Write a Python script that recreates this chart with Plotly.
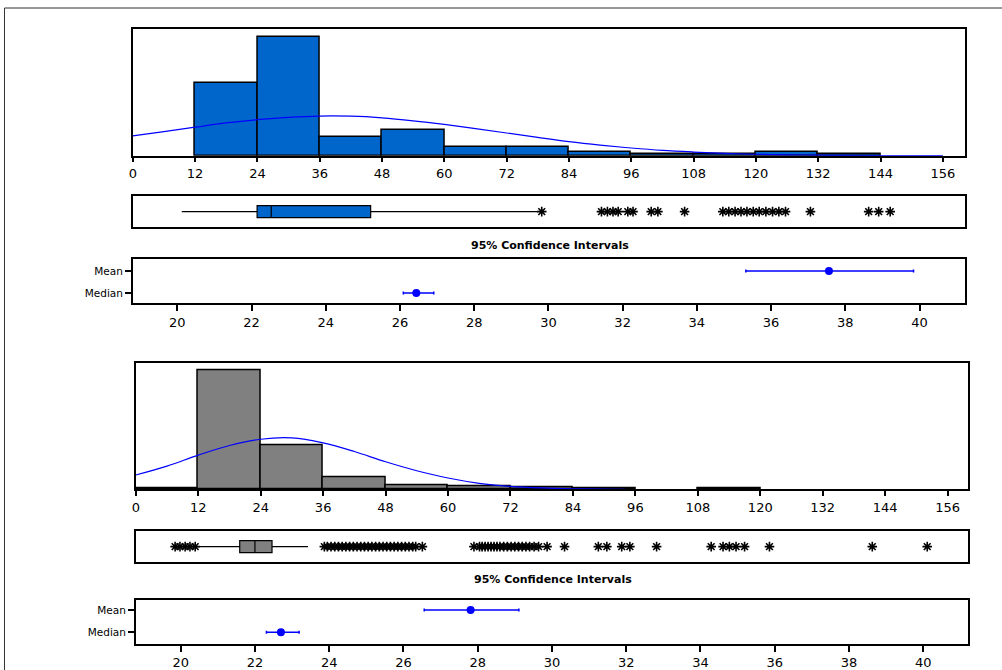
import plotly.graph_objects as go

# ---------------- data ----------------
bin_left = [0, 12, 24, 36, 48, 60, 72, 84, 96, 108, 120, 132, 144]
bin_width = 12
counts_1 = [0, 40, 65, 10, 14, 5, 5, 2, 1, 1, 2, 1, 0]
counts_2 = [2, 180, 67, 18, 6, 4, 3, 1, 0, 1, 0, 0, 0]

curve1_x = [0, 6, 12, 18, 24, 30, 36, 42, 48, 54, 60, 66, 72, 78, 84, 90, 96,
            102, 108, 114, 120, 126, 132, 138, 144, 150, 156]
curve1_y = [10.8, 13.2, 15.6, 17.9, 19.7, 21.0, 21.7, 21.6, 20.7, 19.1, 17.1,
            14.8, 12.4, 10.0, 7.7, 5.8, 4.2, 2.9, 2.0, 1.3, 0.8, 0.5, 0.3,
            0.15, 0.1, 0.05, 0.0]
curve2_x = [0, 6, 12, 18, 24, 30, 36, 42, 48, 54, 60, 66, 72, 78, 84, 90, 94]
curve2_y = [21.6, 35.0, 51.5, 66.0, 75.5, 77.5, 70.0, 57.0, 41.5, 28.0, 17.0,
            9.0, 4.5, 2.0, 0.8, 0.3, 0.1]

hist_ticks = [0, 12, 24, 36, 48, 60, 72, 84, 96, 108, 120, 132, 144, 156]
ci_ticks = [20, 22, 24, 26, 28, 30, 32, 34, 36, 38, 40]
ci_labels = ["Median", "Mean"]

# box plot summaries (on the 20-40 scale)
box1 = dict(lowerfence=20.12, q1=22.15, median=22.53, q3=25.21, upperfence=29.73)
box2 = dict(lowerfence=20.43, q1=21.59, median=22.00, q3=22.46, upperfence=23.43)
outliers_1 = [29.82, 31.43, 31.59, 31.74, 31.88, 32.14, 32.28, 32.77, 32.95,
              33.67, 34.70, 34.86, 35.03, 35.19, 35.35, 35.52, 35.68, 35.86,
              36.04, 36.21, 36.39, 37.06, 38.63, 38.90, 39.21]
outliers_2 = [19.85, 19.98, 20.12, 20.25, 20.39,
              23.87, 23.95, 24.05, 24.15, 24.25, 24.35, 24.45, 24.55, 24.65,
              24.75, 24.85, 24.95, 25.05, 25.15, 25.25, 25.35, 25.45, 25.55,
              25.65, 25.75, 25.85, 25.95, 26.05, 26.15, 26.25, 26.33, 26.51,
              27.90, 28.05, 28.12, 28.20, 28.28, 28.36, 28.44, 28.52, 28.60,
              28.70, 28.80, 28.90, 29.00, 29.10, 29.20, 29.30, 29.40, 29.52,
              29.64, 29.87, 30.34, 31.25, 31.48, 31.88, 32.10, 32.82, 34.29,
              34.61, 34.78, 34.96, 35.19, 35.86, 38.63, 40.11]

# confidence intervals: [median, mean]
ci1_center = [26.44, 37.56]
ci1_low = [26.09, 35.32]
ci1_high = [26.91, 39.84]
ci2_center = [22.70, 27.81]
ci2_low = [22.31, 26.56]
ci2_high = [23.19, 29.11]

# ---------------- layout helpers ----------------
W, H = 1002, 670


def dx(a, b):
    return [a / W, b / W]


def dy(top, bottom):
    return [1 - bottom / H, 1 - top / H]


FONT = "DejaVu Sans"
BLUE_BAR = "#0066CC"
GRAY_BAR = "#808080"
LINE_BLUE = "#0000FF"

fig = go.Figure()

bin_centers = [b + bin_width / 2 for b in bin_left]


def nz(vals):
    return [v if v > 0 else None for v in vals]


star = dict(symbol="asterisk-open", size=8, color="black",
            line=dict(color="black", width=1.6))

# histogram 1
fig.add_trace(go.Bar(x=bin_centers, y=nz(counts_1), width=bin_width,
                     marker=dict(color=BLUE_BAR, line=dict(color="black", width=1.5)),
                     xaxis="x", yaxis="y", showlegend=False))
fig.add_trace(go.Scatter(x=curve1_x, y=curve1_y, mode="lines",
                         line=dict(color=LINE_BLUE, width=1.2, shape="spline"),
                         xaxis="x", yaxis="y", showlegend=False))
# box 1
fig.add_trace(go.Box(y=[0], q1=[box1["q1"]], median=[box1["median"]], q3=[box1["q3"]],
                     lowerfence=[box1["lowerfence"]], upperfence=[box1["upperfence"]],
                     orientation="h", width=1, whiskerwidth=0, boxpoints=False,
                     fillcolor=BLUE_BAR, line=dict(color="black", width=1.2),
                     xaxis="x2", yaxis="y2", showlegend=False))
fig.add_trace(go.Scatter(x=outliers_1, y=[0] * len(outliers_1), mode="markers",
                         marker=star, xaxis="x2", yaxis="y2", showlegend=False))
# CI 1
fig.add_trace(go.Scatter(x=ci1_center, y=ci_labels, mode="markers",
                         marker=dict(color=LINE_BLUE, size=8),
                         error_x=dict(type="data", symmetric=False,
                                      array=[h - c for h, c in zip(ci1_high, ci1_center)],
                                      arrayminus=[c - l for c, l in zip(ci1_center, ci1_low)],
                                      color=LINE_BLUE, thickness=1.5, width=1.5),
                         xaxis="x3", yaxis="y3", showlegend=False))

# histogram 2
fig.add_trace(go.Bar(x=bin_centers, y=nz(counts_2), width=bin_width,
                     marker=dict(color=GRAY_BAR, line=dict(color="black", width=1.5)),
                     xaxis="x4", yaxis="y4", showlegend=False))
fig.add_trace(go.Scatter(x=curve2_x, y=curve2_y, mode="lines",
                         line=dict(color=LINE_BLUE, width=1.2, shape="spline"),
                         xaxis="x4", yaxis="y4", showlegend=False))
# box 2
fig.add_trace(go.Box(y=[0], q1=[box2["q1"]], median=[box2["median"]], q3=[box2["q3"]],
                     lowerfence=[box2["lowerfence"]], upperfence=[box2["upperfence"]],
                     orientation="h", width=1, whiskerwidth=0, boxpoints=False,
                     fillcolor=GRAY_BAR, line=dict(color="black", width=1.2),
                     xaxis="x5", yaxis="y5", showlegend=False))
fig.add_trace(go.Scatter(x=outliers_2, y=[0] * len(outliers_2), mode="markers",
                         marker=star, xaxis="x5", yaxis="y5", showlegend=False))
# CI 2
fig.add_trace(go.Scatter(x=ci2_center, y=ci_labels, mode="markers",
                         marker=dict(color=LINE_BLUE, size=8),
                         error_x=dict(type="data", symmetric=False,
                                      array=[h - c for h, c in zip(ci2_high, ci2_center)],
                                      arrayminus=[c - l for c, l in zip(ci2_center, ci2_low)],
                                      color=LINE_BLUE, thickness=1.5, width=1.5),
                         xaxis="x6", yaxis="y6", showlegend=False))

frame = dict(showline=True, linecolor="black", linewidth=1.5, mirror=True,
             showgrid=False, zeroline=False)
tickfont = dict(family=FONT, size=13, color="black")

hist_x = dict(frame, tickmode="array", tickvals=hist_ticks, ticks="outside",
              ticklen=5, tickwidth=1.5, tickcolor="black", tickfont=tickfont,
              range=[0, 160.3])
ci_x = dict(frame, tickmode="array", tickvals=ci_ticks, ticks="outside",
            ticklen=6, tickwidth=1.5, tickcolor="black", tickfont=tickfont)
box_x = dict(frame, showticklabels=False, ticks="")
hid_y = dict(frame, showticklabels=False, ticks="")
ci_y = dict(frame, type="category", categoryorder="array", categoryarray=ci_labels,
            ticks="outside", ticklen=6, tickwidth=1.5, tickcolor="black",
            tickfont=dict(family=FONT, size=10.5, color="black"))

fig.update_layout(
    width=W, height=H, autosize=False,
    margin=dict(l=0, r=0, t=0, b=0),
    paper_bgcolor="white", plot_bgcolor="white",
    bargap=0, barmode="overlay",
    xaxis=dict(hist_x, domain=dx(129.3, 965), anchor="y"),
    yaxis=dict(hid_y, domain=dy(29, 155.7), anchor="x", range=[0, 69.3]),
    xaxis2=dict(box_x, domain=dx(129.3, 965), anchor="y2", range=[18.8, 41.23]),
    yaxis2=dict(hid_y, domain=dy(196, 227.3), anchor="x2", range=[-1.3, 1.3]),
    xaxis3=dict(ci_x, domain=dx(129.3, 965), anchor="y3", range=[18.8, 41.23]),
    yaxis3=dict(ci_y, domain=dy(259, 303.3), anchor="x3", range=[-0.475, 1.553]),
    xaxis4=dict(hist_x, domain=dx(132.3, 968.3), anchor="y4", range=[0, 160]),
    yaxis4=dict(hid_y, domain=dy(363.3, 489.3), anchor="x4", range=[0, 190]),
    xaxis5=dict(box_x, domain=dx(132.3, 968.3), anchor="y5", range=[18.79, 41.22]),
    yaxis5=dict(hid_y, domain=dy(531, 562.3), anchor="x5", range=[-1.3, 1.3]),
    xaxis6=dict(ci_x, domain=dx(132.3, 968.3), anchor="y6", range=[18.79, 41.22]),
    yaxis6=dict(ci_y, domain=dy(600, 644), anchor="x6", range=[-0.525, 1.448]),
    annotations=[
        dict(text="<b>95% Confidence Intervals</b>", xref="paper", yref="paper",
             x=548 / W, y=1 - 245 / H, showarrow=False, yanchor="middle",
             xanchor="center", font=dict(family=FONT, size=11, color="black")),
        dict(text="<b>95% Confidence Intervals</b>", xref="paper", yref="paper",
             x=551 / W, y=1 - 579 / H, showarrow=False, yanchor="middle",
             xanchor="center", font=dict(family=FONT, size=11, color="black")),
    ],
    shapes=[
        dict(type="rect", xref="paper", yref="paper",
             x0=0.5 / W, x1=1.02, y0=-0.02, y1=1 - 8 / H,
             line=dict(color="#333333", width=1)),
    ],
)

fig.write_html("out.html", config={"displayModeBar": False},
               post_script="document.body.style.margin='0';")
